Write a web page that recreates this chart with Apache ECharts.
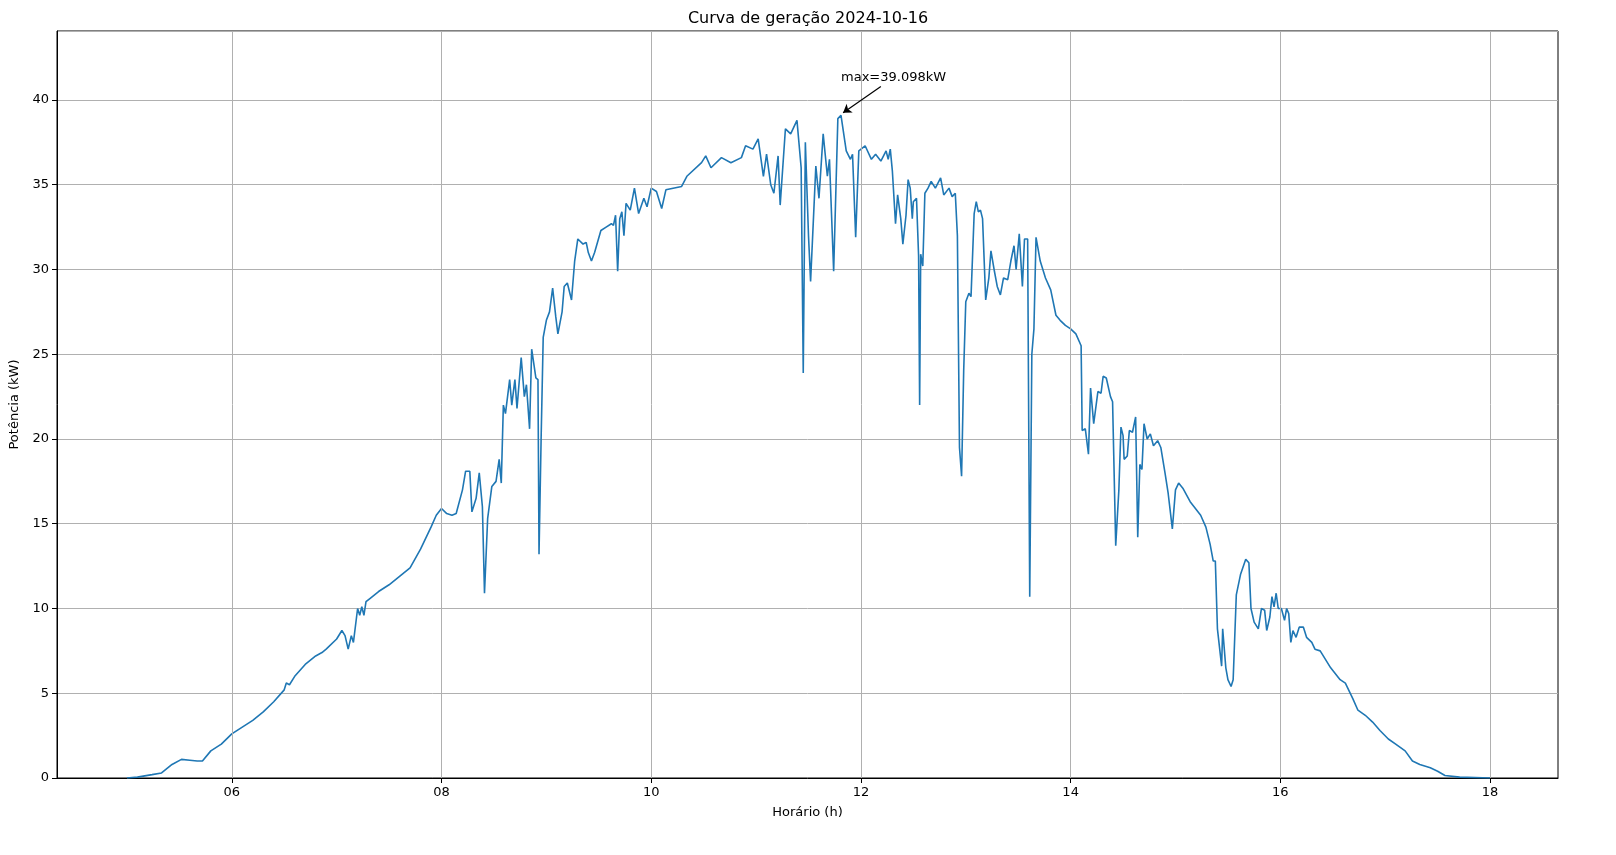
<!DOCTYPE html>
<html><head><meta charset="utf-8">
<script src="https://cdn.jsdelivr.net/npm/echarts@6/dist/echarts.min.js"></script>
<style>html,body{margin:0;padding:0;background:#fff}#c{width:1616px;height:855px}</style>
</head><body><div id="c"></div>
<script>
const hours = [5.00,5.10,5.24,5.33,5.43,5.52,5.6,5.67,5.72,5.8,5.9,6.0,6.1,6.2,6.3,6.4,6.5,6.52,6.55,6.6,6.7,6.8,6.86,6.9,7.0,7.05,7.08,7.11,7.14,7.16,7.2,7.22,7.24,7.26,7.28,7.32,7.4,7.5,7.6,7.7,7.8,7.9,7.95,8.0,
8.05,8.1,8.14,8.2,8.23,8.27,8.29,8.33,8.36,8.39,8.41,8.44,8.48,8.52,8.55,8.57,8.59,8.61,8.65,8.67,8.7,8.72,8.76,8.79,8.81,8.84,8.86,8.9,8.92,8.93,8.95,8.97,9.0,9.03,9.06,9.09,9.11,9.15,9.17,9.2,9.24,9.27,9.3,9.35,9.38,9.4,9.43,9.46,9.52,9.57,9.62,9.64,9.66,9.68,9.7,9.72,9.74,9.76,9.8,9.84,9.88,9.93,9.96,10.0,10.05,10.1,10.14,10.29,10.34,10.48,10.52,10.57,10.67,10.76,10.86,10.9,10.97,11.02,11.07,11.1,11.14,11.17,11.21,11.23,11.28,11.33,11.39,11.43,11.45,11.47,11.5,11.52,11.57,11.6,11.64,11.68,11.7,11.74,11.78,11.81,11.86,11.9,11.92,11.95,11.98,12.04,12.1,12.14,12.19,12.24,12.26,12.28,12.3,12.33,12.35,12.38,12.40,12.43,12.45,12.47,12.49,12.5,12.53,12.55,12.56,12.57,12.59,12.61,12.64,12.67,12.71,12.76,12.79,12.84,12.87,12.9,12.92,12.94,12.96,12.98,13.0,13.03,13.05,13.08,13.1,13.12,13.14,13.16,13.19,13.22,13.24,13.27,13.3,13.33,13.36,13.4,13.43,13.46,13.48,13.51,13.54,13.56,13.59,13.61,13.63,13.65,13.67,13.71,13.76,13.81,13.86,13.9,13.95,14.0,14.05,14.1,14.11,14.14,14.17,14.19,14.22,14.26,14.29,14.31,14.34,14.38,14.4,14.43,14.46,14.48,14.5,14.51,14.54,14.56,14.59,14.62,14.64,14.66,14.68,14.7,14.71,14.73,14.76,14.79,14.83,14.86,14.9,14.93,14.97,15.0,15.03,15.07,15.14,15.24,15.29,15.33,15.36,15.38,15.4,15.44,15.45,15.48,15.5,15.53,15.55,15.58,15.62,15.67,15.7,15.72,15.75,15.79,15.82,15.85,15.87,15.9,15.92,15.94,15.96,15.98,16.01,16.04,16.06,16.08,16.1,16.12,16.15,16.18,16.22,16.25,16.3,16.33,16.38,16.48,16.57,16.62,16.69,16.74,16.81,16.88,16.95,17.03,17.1,17.19,17.26,17.33,17.43,17.5,17.57,17.71,18.0];
const power = [0,0.05,0.2,0.3,0.8,1.1,1.05,1.0,1.0,1.6,2.0,2.6,3.0,3.4,3.9,4.5,5.2,5.6,5.5,6.0,6.7,7.2,7.4,7.6,8.2,8.7,8.4,7.6,8.4,8.0,10.0,9.6,10.1,9.6,10.4,10.6,11.0,11.4,11.9,12.4,13.5,14.8,15.5,15.9,
15.6,15.5,15.6,17.0,18.1,18.1,15.7,16.5,18.0,16,10.9,15.3,17.2,17.5,18.8,17.4,22.0,21.5,23.5,22,23.5,21.8,24.8,22.5,23.2,20.6,25.3,23.6,23.5,13.2,20,26,27.0,27.5,28.9,27.2,26.2,27.5,29.0,29.2,28.2,30.5,31.8,31.5,31.6,31.0,30.5,31.0,32.3,32.5,32.7,32.6,33.2,29.9,33.0,33.4,32.0,33.9,33.5,34.8,33.3,34.2,33.7,34.8,34.6,33.6,34.7,34.9,35.5,36.3,36.7,36.0,36.6,36.3,36.6,37.3,37.1,37.7,35.5,36.8,35.0,34.5,36.7,33.8,38.3,38.0,38.8,36,23.9,37.5,32,29.3,36.1,34.2,38.0,35.5,36.5,29.9,38.9,39.098,37.0,36.5,36.8,31.9,37.0,37.3,36.5,36.8,36.4,37.0,36.5,37.1,35.8,32.7,34.4,33,31.5,33.2,35.3,34.8,33.0,34.0,34.2,30.8,22.0,30.9,30.2,34.5,34.8,35.2,34.8,35.4,34.4,34.8,34.3,34.5,32,19.5,17.8,24,28.1,28.6,28.4,33.3,34.0,33.4,33.5,33.0,28.2,29.5,31.1,30.0,29.0,28.5,29.5,29.4,30.5,31.4,30.0,32.1,29.0,31.8,31.8,10.7,25,26.5,31.9,30.5,29.5,28.8,27.3,27,26.7,26.5,26.2,25.5,20.5,20.6,19.1,23,20.9,22.8,22.7,23.7,23.6,22.5,22.2,13.7,17,20.7,20.2,18.8,19,20.5,20.4,21.3,14.2,18.5,18.2,20.9,20.9,20.0,20.3,19.6,19.9,19.5,18,16.8,14.7,17.0,17.4,17.1,16.3,15.5,14.8,13.8,12.8,12.8,8.8,6.6,8.8,6.5,5.8,5.4,5.8,10.8,12.0,12.9,12.7,10,9.2,8.8,10.0,9.9,8.7,9.5,10.7,10.1,10.9,10.0,10.0,9.3,10.0,9.7,8.0,8.7,8.3,8.9,8.9,8.3,8.0,7.6,7.5,6.5,5.8,5.6,4.7,4.0,3.7,3.3,2.8,2.3,2.0,1.6,1.0,0.8,0.6,0.4,0.15,0.05,0];
const xTicks = [6,8,10,12,14,16,18];
const maxPoint = [11.81, 39.098];
const maxLabelAt = [11.81, 41.3];
const arrowFrom = [12.19, 40.8];
const arrowTo = [11.83, 39.25];

const chart = echarts.init(document.getElementById('c'));
const fmt = v => (v < 10 ? '0' + v : '' + v);
chart.setOption({
  animation: false,
  title: {text: 'Curva de geração 2024-10-16', left: 'center', top: 6,
    textStyle: {fontFamily: 'DejaVu Sans', fontSize: 16, fontWeight: 'normal', color: '#000'}},
  grid: {left: 55, right: 58, top: 31, bottom: 77, show: true, borderColor: '#000', borderWidth: 1},
  xAxis: {type: 'value', min: 4.333, max: 18.648, name: 'Horário (h)', nameLocation: 'middle', nameGap: 28,
    nameTextStyle: {fontFamily: 'DejaVu Sans', fontSize: 13, color: '#000'},
    axisLine: {show: true, lineStyle: {color: '#000'}},
    axisTick: {show: true, customValues: xTicks, length: 5, lineStyle: {color: '#000'}},
    axisLabel: {customValues: xTicks, formatter: fmt, fontFamily: 'DejaVu Sans', fontSize: 13, color: '#000', margin: 8},
    splitLine: {show: false}},
  yAxis: {type: 'value', min: 0, max: 44.07, interval: 5, name: 'Potência (kW)', nameLocation: 'middle', nameGap: 36,
    nameTextStyle: {fontFamily: 'DejaVu Sans', fontSize: 13, color: '#000'},
    axisLine: {show: true, lineStyle: {color: '#000'}},
    axisTick: {show: true, length: 5, lineStyle: {color: '#000'}},
    axisLabel: {fontFamily: 'DejaVu Sans', fontSize: 13, color: '#000', margin: 8, showMaxLabel: false},
    splitLine: {show: true, lineStyle: {color: '#b0b0b0', width: 1}}},
  series: [{
    type: 'line', data: hours.map((h, i) => [h, power[i]]), showSymbol: false, symbol: 'none',
    lineStyle: {color: '#1f77b4', width: 1.6}, itemStyle: {color: '#1f77b4'},
    markLine: {silent: true, symbol: ['none', 'none'], label: {show: false}, animation: false,
      lineStyle: {color: '#b0b0b0', type: 'solid', width: 1},
      data: xTicks.map(t => ({xAxis: t})).concat([[
        {coord: arrowFrom, symbol: 'none', lineStyle: {color: '#000', width: 1.2}},
        {coord: arrowTo, symbol: 'arrow', symbolSize: 8, lineStyle: {color: '#000', width: 1.2}}
      ]])},
    markPoint: {silent: true, symbol: 'circle', symbolSize: 0,
      data: [{coord: maxLabelAt, value: maxPoint[1],
        label: {show: true, position: 'right', distance: 0, formatter: 'max=' + maxPoint[1].toFixed(3) + 'kW',
          fontFamily: 'DejaVu Sans', fontSize: 13, color: '#000'}}]}
  }]
});
</script></body></html>
